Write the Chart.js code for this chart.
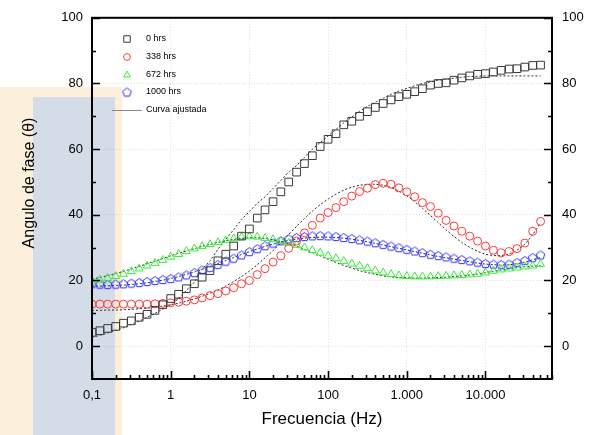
<!DOCTYPE html>
<html>
<head>
<meta charset="utf-8">
<script src="https://cdn.jsdelivr.net/npm/chart.js@4.4.1/dist/chart.umd.min.js"></script>
<style>
  html, body { margin: 0; padding: 0; background: #fff; }
  #wrap { position: relative; width: 590px; height: 435px; overflow: hidden; }
  .logo { position: absolute; }
  #fase { position: absolute; left: 0; top: 0; }
</style>
</head>
<body>
<div id="wrap">
  <div class="logo" style="left:0;top:87px;width:122px;height:348px;background:#fcefdb"></div>
  <div class="logo" style="left:33px;top:97px;width:82px;height:338px;background:#d4dce7"></div>
  <canvas id="fase" width="590" height="435"></canvas>
</div>
<script>
// frecuencias medidas (Hz)
const frecuencias = [
  0.1, 0.126, 0.158, 0.2, 0.251, 0.316, 0.398, 0.501, 0.631, 0.794,
  1, 1.26, 1.58, 2, 2.51, 3.16, 3.98, 5.01, 6.31, 7.94,
  10, 12.6, 15.8, 20, 25.1, 31.6, 39.8, 50.1, 63.1, 79.4,
  100, 126, 158, 200, 251, 316, 398, 501, 631, 794,
  1000, 1260, 1580, 2000, 2510, 3160, 3980, 5010, 6310, 7940,
  10000, 12600, 15800, 20000, 25100, 31600, 39800, 50100
];

// angulo de fase medido
const fase0 = [
  4.2, 4.7, 5.4, 6.0, 7.0, 7.7, 8.8, 9.7, 10.9, 12.6,
  14.5, 15.8, 17.5, 19.0, 21.0, 23.0, 26.0, 28.0, 30.5, 33.5,
  35.7, 39.0, 41.5, 44.0, 47.0, 50.0, 53.0, 55.6, 58.0, 60.8,
  63.0, 64.7, 67.4, 68.5, 70.0, 71.4, 72.7, 73.9, 75.0, 76.0,
  76.7, 77.5, 78.4, 79.5, 80.0, 80.2, 81.0, 81.7, 82.3, 82.8,
  83.0, 83.5, 84.0, 84.4, 84.5, 85.0, 85.5, 85.6
];
const fase338 = [
  12.8, 12.8, 12.8, 12.8, 12.8, 12.8, 12.8, 12.8, 12.9, 13.0,
  13.2, 13.4, 13.7, 14.1, 14.7, 15.4, 16.0, 16.8, 17.8, 19.0,
  20.0, 21.8, 23.6, 25.6, 27.5, 29.8, 32.0, 34.5, 36.8, 39.0,
  40.7, 42.2, 44.0, 45.7, 47.1, 48.1, 49.2, 49.6, 49.3, 48.2,
  47.0, 45.5, 43.7, 42.5, 40.5, 38.3, 36.6, 35.0, 33.5, 32.0,
  30.5, 29.2, 28.4, 28.8, 29.7, 31.4, 35.0, 38.0
];
const fase672 = [
  19.8, 20.2, 20.7, 21.3, 22.0, 22.8, 23.6, 24.5, 25.3, 26.2,
  27.2, 28.0, 28.9, 29.7, 30.4, 31.0, 31.6, 32.2, 32.8, 33.2,
  33.4, 33.3, 32.9, 32.5, 32.0, 31.4, 30.8, 30.0, 29.2, 28.4,
  27.5, 26.7, 25.9, 25.1, 24.4, 23.7, 23.0, 22.4, 21.9, 21.5,
  21.3, 21.2, 21.2, 21.2, 21.3, 21.4, 21.5, 21.6, 21.8, 22.0,
  22.4, 22.9, 23.3, 23.6, 23.9, 24.2, 24.5, 25.0
];
const fase1000 = [
  19.0, 18.9, 18.8, 18.9, 19.0, 19.2, 19.4, 19.7, 20.0, 20.3,
  20.6, 21.1, 21.7, 22.4, 23.2, 24.0, 24.9, 25.9, 26.8, 27.8,
  28.8, 29.7, 30.6, 31.4, 32.1, 32.7, 33.1, 33.4, 33.6, 33.7,
  33.6, 33.4, 33.1, 32.8, 32.4, 32.0, 31.5, 31.0, 30.5, 30.0,
  29.5, 29.0, 28.5, 28.0, 27.6, 27.2, 26.8, 26.4, 26.0, 25.6,
  25.2, 25.0, 24.9, 25.0, 25.5, 26.1, 27.0, 27.8
];

// curvas ajustadas
const ajuste0 = [
  2.7, 3.3, 4.0, 4.8, 5.6, 6.6, 7.6, 8.8, 10.0, 11.3,
  12.6, 14.5, 17.0, 19.5, 23.5, 26.0, 29.5, 32.5, 35.5, 38.5,
  41.0, 43.5, 45.5, 48.0, 50.5, 53.0, 55.0, 57.5, 60.0, 62.0,
  64.0, 66.0, 68.0, 69.8, 71.5, 73.0, 74.3, 75.5, 76.7, 77.7,
  78.5, 79.3, 80.0, 80.5, 81.0, 81.3, 81.6, 81.9, 82.1, 82.2,
  82.3, 82.3, 82.3, 82.3, 82.3, 82.3, 82.3, 82.3
];
const ajuste338 = [
  10.9, 10.9, 11.0, 11.0, 11.1, 11.2, 11.4, 11.6, 11.9, 12.2,
  12.6, 13.1, 13.7, 14.4, 15.2, 16.1, 17.1, 18.3, 19.7, 21.2,
  22.9, 24.8, 26.9, 29.1, 31.5, 34.0, 36.5, 38.9, 41.1, 43.1,
  44.8, 46.3, 47.5, 48.4, 49.0, 49.3, 49.3, 49.0, 48.3, 47.2,
  45.8, 44.0, 42.0, 39.8, 37.6, 35.4, 33.4, 31.6, 30.1, 28.9,
  28.0, 27.6, 27.6, 28.1, 29.2, 31.0, 34.0, 37.5
];
const ajuste672 = [
  20.4, 20.9, 21.5, 22.1, 22.8, 23.5, 24.3, 25.1, 25.9, 26.7,
  27.5, 28.3, 29.0, 29.7, 30.4, 31.0, 31.6, 32.1, 32.5, 32.8,
  33.0, 33.0, 32.8, 32.4, 31.9, 31.2, 30.4, 29.5, 28.5, 27.5,
  26.5, 25.5, 24.6, 23.8, 23.0, 22.4, 21.9, 21.4, 21.1, 20.9,
  20.8, 20.7, 20.7, 20.8, 20.9, 21.0, 21.2, 21.4, 21.7, 22.0,
  22.4, 22.8, 23.2, 23.6, 23.9, 24.2, 24.4, 24.5
];
const ajuste1000 = [
  18.3, 18.3, 18.4, 18.5, 18.6, 18.8, 19.0, 19.3, 19.7, 20.1,
  20.6, 21.2, 21.9, 22.6, 23.4, 24.3, 25.2, 26.1, 27.0, 27.9,
  28.8, 29.6, 30.4, 31.1, 31.7, 32.2, 32.6, 32.9, 33.1, 33.2,
  33.2, 33.1, 32.9, 32.6, 32.2, 31.8, 31.3, 30.8, 30.3, 29.8,
  29.3, 28.8, 28.3, 27.8, 27.3, 26.9, 26.5, 26.1, 25.7, 25.3,
  25.0, 24.8, 24.7, 24.8, 25.1, 25.6, 26.3, 27.0
];

const series = ['0 hrs', '338 hrs', '672 hrs', '1000 hrs'];
const ticksX = [0.1, 1, 10, 100, 1000, 10000];
const etiquetasX = ['0,1', '1', '10', '100', '1.000', '10.000'];
const ticksY = [0, 20, 40, 60, 80, 100];

const fuente = 'Liberation Sans, Arial, sans-serif';

function puntos(ys) {
  return frecuencias.map((f, i) => ({ x: f, y: ys[i] }));
}

// pentagono hueco para la serie de 1000 hrs
function pentagono(color) {
  const c = document.createElement('canvas');
  c.width = 11; c.height = 11;
  const g = c.getContext('2d');
  g.strokeStyle = color;
  g.lineWidth = 1;
  g.beginPath();
  for (let k = 0; k < 5; k++) {
    const ang = -Math.PI / 2 + k * 2 * Math.PI / 5;
    const px = 5.5 + 4.5 * Math.cos(ang), py = 6 + 4.5 * Math.sin(ang);
    if (k) g.lineTo(px, py); else g.moveTo(px, py);
  }
  g.closePath();
  g.stroke();
  return c;
}

const estilos = [
  { color: '#3a3a3a', pointStyle: 'rect', radius: 5.4 },
  { color: '#ff3a3a', pointStyle: 'circle', radius: 4 },
  { color: '#33ee33', pointStyle: 'triangle', radius: 4.6 },
  { color: '#2e2eff', pointStyle: pentagono('#2e2eff'), radius: 5 }
];

const medidos = [fase0, fase338, fase672, fase1000];
const ajustes = [ajuste0, ajuste338, ajuste672, ajuste1000];

const datasets = [];
medidos.forEach((ys, i) => {
  datasets.push({
    label: series[i],
    data: puntos(ys),
    showLine: false,
    pointStyle: estilos[i].pointStyle,
    pointRadius: estilos[i].radius,
    pointBorderColor: estilos[i].color,
    pointBackgroundColor: 'rgba(0,0,0,0)',
    pointBorderWidth: 1
  });
});
ajustes.forEach((ys) => {
  datasets.push({
    label: 'Curva ajustada',
    data: puntos(ys),
    showLine: true,
    pointRadius: 0,
    borderColor: '#2b2b2b',
    borderWidth: 1,
    borderDash: [2, 2],
    tension: 0.2
  });
});

// marco, marcas de los ejes hacia adentro y titulo del eje y
const marco = {
  id: 'marco',
  afterDraw(chart) {
    const { ctx, chartArea: a, scales: { x, y } } = chart;
    ctx.save();
    ctx.strokeStyle = '#000';
    ctx.lineWidth = 2;
    ctx.strokeRect(a.left, a.top, a.right - a.left, a.bottom - a.top);
    ctx.lineWidth = 1.6;
    ctx.beginPath();
    for (let d = -1; d <= 4; d++) {
      for (let m = 1; m <= 9; m++) {
        const v = m * Math.pow(10, d);
        if (v < 0.1 || v > 70000) continue;
        const px = Math.round(x.getPixelForValue(v)) + 0.5;
        const len = m === 1 ? 8 : 4;
        ctx.moveTo(px, a.bottom);
        ctx.lineTo(px, a.bottom - len);
      }
    }
    for (let v = 0; v <= 100; v += 10) {
      const py = Math.round(y.getPixelForValue(v)) + 0.5;
      const len = v % 20 === 0 ? 8 : 4;
      ctx.moveTo(a.left, py);
      ctx.lineTo(a.left + len, py);
      ctx.moveTo(a.right, py);
      ctx.lineTo(a.right - len, py);
    }
    ctx.stroke();

    ctx.fillStyle = '#000';
    ctx.font = '16px ' + fuente;
    ctx.textAlign = 'center';
    ctx.textBaseline = 'middle';
    ctx.translate(30, 183);
    ctx.rotate(-Math.PI / 2);
    ctx.fillText('Angulo de fase (\u03b8)', 0, 0);
    ctx.restore();
  }
};

// leyenda dentro del area del grafico, simbolos huecos
const leyenda = {
  id: 'leyenda',
  afterDraw(chart) {
    const { ctx, chartArea: a } = chart;
    const xm = a.left + 35, xt = a.left + 54;
    const filas = [39, 57, 75, 92, 110];
    ctx.save();
    ctx.font = '9px ' + fuente;
    ctx.textBaseline = 'middle';
    estilos.forEach((e, i) => {
      ctx.strokeStyle = e.color;
      ctx.fillStyle = 'rgba(0,0,0,0)';
      ctx.lineWidth = 1;
      Chart.helpers.drawPoint(ctx, {
        pointStyle: e.pointStyle,
        radius: e.radius * 0.85,
        rotation: 0,
        borderWidth: 1
      }, xm, filas[i]);
      ctx.fillStyle = '#000';
      ctx.fillText(series[i], xt, filas[i]);
    });
    ctx.strokeStyle = '#888';
    ctx.lineWidth = 1;
    ctx.beginPath();
    ctx.moveTo(a.left + 20, filas[4] + 0.5);
    ctx.lineTo(a.left + 50, filas[4] + 0.5);
    ctx.stroke();
    ctx.fillStyle = '#000';
    ctx.fillText('Curva ajustada', xt, filas[4]);
    ctx.restore();
  }
};

new Chart(document.getElementById('fase'), {
  type: 'scatter',
  data: { datasets },
  options: {
    responsive: false,
    animation: false,
    layout: { padding: { top: 15 } },
    plugins: { legend: { display: false }, tooltip: { enabled: false } },
    scales: {
      x: {
        type: 'logarithmic',
        min: 0.1,
        max: 70000,
        afterBuildTicks: s => { s.ticks = ticksX.map(v => ({ value: v })); },
        afterFit: s => { s.height = 56; },
        ticks: {
          callback: (v, i) => etiquetasX[i],
          autoSkip: false,
          maxRotation: 0,
          padding: 9,
          color: '#000',
          font: { family: fuente, size: 13 }
        },
        grid: { color: 'rgba(0,0,0,0.12)', drawTicks: false },
        border: { display: false, dash: [1, 2] },
        title: {
          display: true,
          text: 'Frecuencia (Hz)',
          color: '#000',
          font: { family: fuente, size: 17 },
          padding: { top: 0, bottom: 5 }
        }
      },
      y: {
        position: 'left',
        min: -10,
        max: 100,
        afterBuildTicks: s => { s.ticks = ticksY.map(v => ({ value: v })); },
        afterFit: s => { s.width = 92; },
        ticks: { padding: 9, color: '#000', font: { family: fuente, size: 13 } },
        grid: { color: 'rgba(0,0,0,0.12)', drawTicks: false },
        border: { display: false, dash: [1, 2] }
      },
      y2: {
        position: 'right',
        min: -10,
        max: 100,
        afterBuildTicks: s => { s.ticks = ticksY.map(v => ({ value: v })); },
        afterFit: s => { s.width = 38; },
        ticks: { padding: 10, color: '#000', font: { family: fuente, size: 13 } },
        grid: { display: false, drawTicks: false },
        border: { display: false }
      }
    }
  },
  plugins: [marco, leyenda]
});
</script>
</body>
</html>
